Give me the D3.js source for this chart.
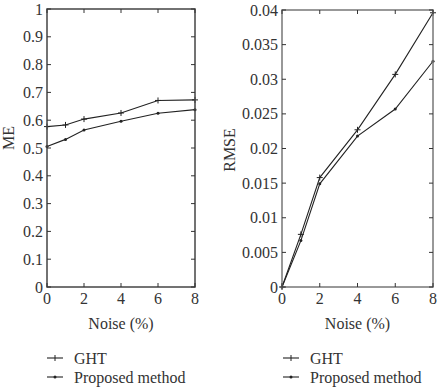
<!DOCTYPE html>
<html>
<head>
<meta charset="utf-8">
<script src="https://cdn.jsdelivr.net/npm/d3@7"></script>
<style>
  body { margin: 0; background: #fff; }
</style>
</head>
<body>
<script>
  const noise = [0, 1, 2, 4, 6, 8];
  const xTicks = [0, 2, 4, 6, 8];

  const meGHT = [0.577, 0.583, 0.604, 0.626, 0.671, 0.673];
  const meProposed = [0.505, 0.531, 0.565, 0.596, 0.625, 0.638];
  const meTicks = [0, 0.1, 0.2, 0.3, 0.4, 0.5, 0.6, 0.7, 0.8, 0.9, 1];

  const rmseGHT = [0, 0.0076, 0.0158, 0.0227, 0.0307, 0.0396];
  const rmseProposed = [0, 0.0067, 0.0149, 0.0218, 0.0257, 0.0326];
  const rmseTicks = [0, 0.005, 0.01, 0.015, 0.02, 0.025, 0.03, 0.035, 0.04];

  const legendLabels = ['GHT', 'Proposed method'];

  const width = 441, height = 388;
  const svg = d3.select('body').append('svg')
    .attr('width', width).attr('height', height)
    .attr('font-family', "'Liberation Serif', 'DejaVu Serif', serif")
    .attr('fill', '#333');

  const panels = [
    { left: 47, right: 195, top: 9, bottom: 287, yMax: 1, ticks: meTicks,
      fmt: d3.format('~g'), label: 'ME', series: [meGHT, meProposed],
      frame: '#444', labelX: 14, labelY: 138, legendX: 47 },
    { left: 282, right: 433, top: 10, bottom: 287, yMax: 0.04, ticks: rmseTicks,
      fmt: (d) => d === 0 ? '0' : String(+d.toFixed(3)), label: 'RMSE',
      series: [rmseGHT, rmseProposed], frame: '#777', labelX: 235, labelY: 150,
      legendX: 283 }
  ];

  const tickLen = 4;
  const fs = 16;

  panels.forEach((p) => {
    const x = d3.scaleLinear().domain([0, 8]).range([p.left, p.right]);
    const y = d3.scaleLinear().domain([0, p.yMax]).range([p.bottom, p.top]);
    const g = svg.append('g');

    // data lines
    const line = d3.line().x((d, i) => x(noise[i])).y((d) => y(d));
    p.series.forEach((s, k) => {
      g.append('path').attr('d', line(s))
        .attr('fill', 'none').attr('stroke', '#222').attr('stroke-width', 1.1);
      s.forEach((v, i) => {
        if (k === 0) {
          g.append('path')
            .attr('d', `M${x(noise[i]) - 3},${y(v)}h6M${x(noise[i])},${y(v) - 3}v6`)
            .attr('stroke', '#222').attr('stroke-width', 1);
        } else {
          g.append('circle').attr('cx', x(noise[i])).attr('cy', y(v))
            .attr('r', 1.5).attr('fill', '#222');
        }
      });
    });

    // frame
    g.append('rect')
      .attr('x', p.left).attr('y', p.top)
      .attr('width', p.right - p.left).attr('height', p.bottom - p.top)
      .attr('fill', 'none').attr('stroke', p.frame).attr('stroke-width', 1.5);

    // y ticks (both sides, inward)
    p.ticks.forEach((t) => {
      g.append('path')
        .attr('d', `M${p.left},${y(t)}h${tickLen}M${p.right},${y(t)}h${-tickLen}`)
        .attr('stroke', '#333').attr('stroke-width', 1);
      g.append('text').attr('x', p.left - 4).attr('y', y(t))
        .attr('dy', '0.35em').attr('text-anchor', 'end')
        .attr('font-size', fs).text(p.fmt(t));
    });

    // x ticks
    xTicks.forEach((t) => {
      g.append('path')
        .attr('d', `M${x(t)},${p.bottom}v${-tickLen}M${x(t)},${p.top}v${tickLen}`)
        .attr('stroke', '#333').attr('stroke-width', 1);
      g.append('text').attr('x', x(t)).attr('y', p.bottom + 17)
        .attr('text-anchor', 'middle').attr('font-size', fs).text(t);
    });

    // axis labels
    g.append('text').attr('x', (p.left + p.right) / 2).attr('y', 329)
      .attr('text-anchor', 'middle').attr('font-size', fs).text('Noise (%)');
    g.append('text')
      .attr('transform', `translate(${p.labelX},${p.labelY}) rotate(-90)`)
      .attr('text-anchor', 'middle').attr('font-size', fs).text(p.label);

    // legend
    legendLabels.forEach((lab, k) => {
      const ly = 358 + k * 19;
      g.append('line').attr('x1', p.legendX).attr('x2', p.legendX + 16)
        .attr('y1', ly).attr('y2', ly).attr('stroke', '#222').attr('stroke-width', 1.1);
      const mx = p.legendX + 8;
      if (k === 0) {
        g.append('path').attr('d', `M${mx},${ly - 3}v6`)
          .attr('stroke', '#222').attr('stroke-width', 1);
      } else {
        g.append('circle').attr('cx', mx).attr('cy', ly).attr('r', 1.5).attr('fill', '#222');
      }
      g.append('text').attr('x', p.legendX + 27).attr('y', ly)
        .attr('dy', '0.35em').attr('font-size', fs).text(lab);
    });
  });
</script>
</body>
</html>
